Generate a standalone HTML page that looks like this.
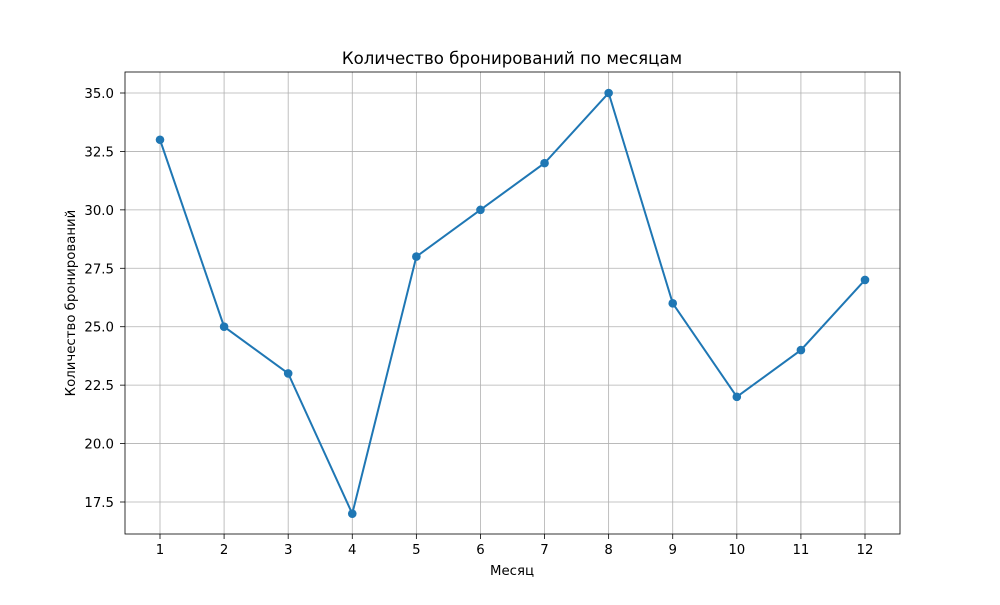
<!DOCTYPE html>
<html><head><meta charset="utf-8"><style>body{margin:0;background:#fff}svg text{font-family:"DejaVu Sans","Liberation Sans",sans-serif;fill:#000}</style></head>
<body>
<svg id="c" width="1000" height="600"></svg>
<script>
const months=[1,2,3,4,5,6,7,8,9,10,11,12];
const bookings=[33,25,23,17,28,30,32,35,26,22,24,27];
const yTicks=[17.5,20.0,22.5,25.0,27.5,30.0,32.5,35.0];
const L=125,R=900,T=72,B=534;
const xs=v=>160+(v-1)*(865-160)/11;
const ys=v=>93+(35-v)*(502-93)/17.5;
const svg=document.getElementById('c');
const NS='http://www.w3.org/2000/svg';
function mk(t,a,p){const e=document.createElementNS(NS,t);for(const k in a)e.setAttribute(k,a[k]);(p||svg).appendChild(e);return e;}
const grid=mk('g',{});


months.forEach(m=>{const x=xs(m);
mk('line',{x1:x,x2:x,y1:T,y2:B,stroke:'#b0b0b0','stroke-width':0.8},grid);
mk('line',{x1:x,x2:x,y1:B,y2:B+5,stroke:'#000','stroke-width':0.8});
const t=mk('text',{x:x,y:B+20,'text-anchor':'middle','font-size':13.3});t.textContent=m;

});
yTicks.forEach(v=>{const y=ys(v);
mk('line',{x1:L,x2:R,y1:y,y2:y,stroke:'#b0b0b0','stroke-width':0.8},grid);
mk('line',{x1:L-5,x2:L,y1:y,y2:y,stroke:'#000','stroke-width':0.8});
const t=mk('text',{x:L-11,y:y+5,'text-anchor':'end','font-size':13.3});t.textContent=v.toFixed(1);

});
const line=mk('polyline',{points:months.map((m,i)=>xs(m)+','+ys(bookings[i])).join(' '),fill:'none',stroke:'#1f77b4','stroke-width':2});


months.forEach((m,i)=>{const c=mk('circle',{cx:xs(m),cy:ys(bookings[i]),r:4.3,fill:'#1f77b4'});

});
const fr=mk('rect',{x:L,y:T,width:R-L,height:B-T,fill:'none',stroke:'#000','stroke-width':0.8});


let t=mk('text',{x:512,y:64,'text-anchor':'middle','font-size':16.6});t.textContent='Количество бронирований по месяцам';


t=mk('text',{x:512,y:575,'text-anchor':'middle','font-size':13.3});t.textContent='Месяц';


t=mk('text',{x:0,y:0,'text-anchor':'middle','font-size':13.3,transform:'translate(75,303) rotate(-90)'});t.textContent='Количество бронирований';


</script>
</body></html>
